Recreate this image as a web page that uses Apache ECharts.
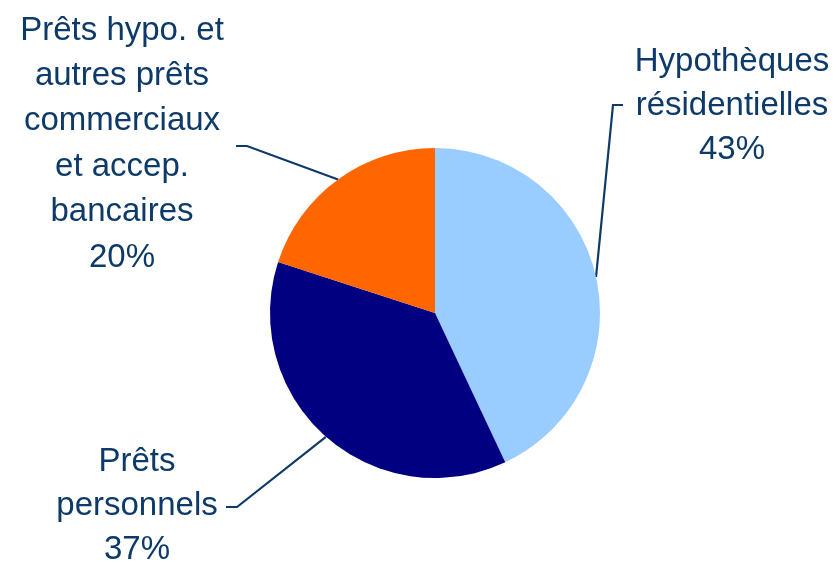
<!DOCTYPE html>
<html>
<head>
<meta charset="utf-8">
<script src="https://cdn.jsdelivr.net/npm/echarts@6/dist/echarts.min.js"></script>
<style>html,body{margin:0;padding:0;background:#fff;}#c{width:838px;height:565px;}</style>
</head>
<body>
<div id="c"></div>
<script>
const categories = ['Hypothèques\nrésidentielles', 'Prêts\npersonnels', 'Prêts hypo. et\nautres prêts\ncommerciaux\net accep.\nbancaires'];
const values = [43, 37, 20];
const colors = ['#99CCFF', '#000080', '#FF6600'];

// label placement (layout only)
const labelPos = [
  {x: 732, y: 106, lh: 44, bend: [613, 105], end: [623, 105]},
  {x: 137, y: 506, lh: 44, bend: [237, 507], end: [226, 507]},
  {x: 122, y: 144, lh: 45.4, bend: [247, 146], end: [236, 146]}
];

const chart = echarts.init(document.getElementById('c'));
chart.setOption({
  animation: false,
  backgroundColor: '#fff',
  series: [{
    type: 'pie',
    center: [435, 313],
    radius: 165,
    startAngle: 90,
    clockwise: true,
    data: categories.map((n, i) => ({
      name: n, value: values[i], itemStyle: {color: colors[i]},
      label: {lineHeight: labelPos[i].lh}
    })),
    label: {
      show: true,
      formatter: p => p.name + '\n' + p.value + '%',
      color: '#0D3A68',
      fontFamily: 'Liberation Sans, Arial, sans-serif',
      fontSize: 33,
      lineHeight: 45,
      align: 'center',
      overflow: 'none'
    },
    labelLine: {show: true, lineStyle: {color: '#0D3A68', width: 2.2}},
    labelLayout: function (params) {
      const lp = labelPos[params.dataIndex];
      const start = params.labelLinePoints ? params.labelLinePoints[0] : lp.bend;
      return {
        x: lp.x,
        y: lp.y,
        width: 400,
        align: 'center',
        verticalAlign: 'middle',
        labelLinePoints: [start, lp.bend, lp.end]
      };
    }
  }]
});
</script>
</body>
</html>
